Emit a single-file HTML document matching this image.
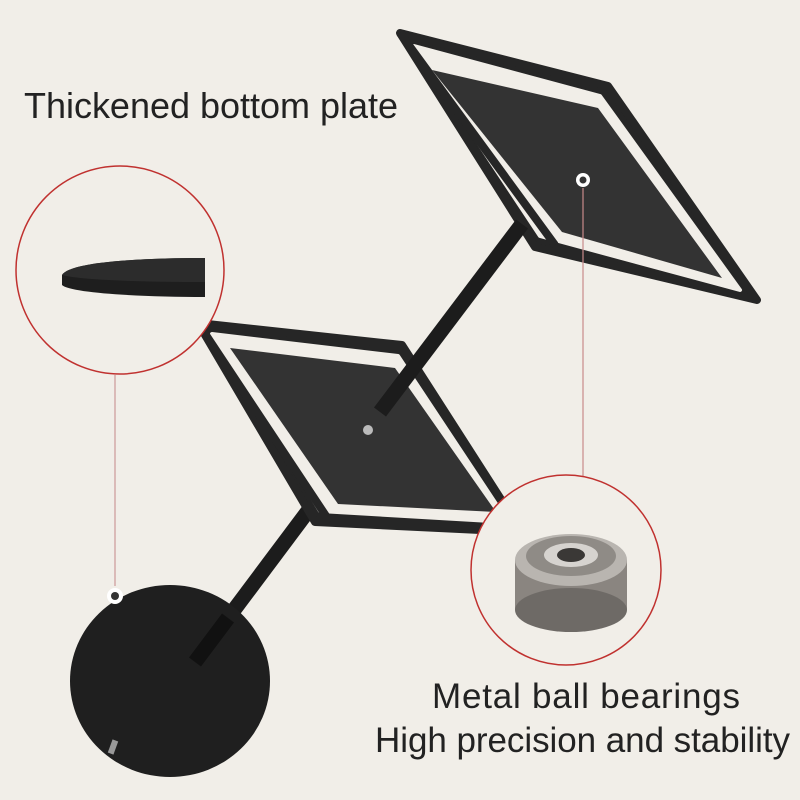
<!DOCTYPE html>
<html><head><style>
html,body{margin:0;padding:0;background:#f1eee8;}
svg{display:block}
text{font-family:"Liberation Sans",sans-serif;fill:#222}
</style></head><body>
<svg width="800" height="800" viewBox="0 0 800 800">
<rect width="800" height="800" fill="#f1eee8"/>
<text x="24" y="118" font-size="36" textLength="374">Thickened bottom plate</text>
<!-- lower pole -->
<line x1="195" y1="662" x2="320" y2="495" stroke="#1c1c1c" stroke-width="15"/>
<!-- upper plate -->
<polygon points="400,33 608,86 757,300 535,247" fill="#262626" stroke="#262626" stroke-width="8" stroke-linejoin="round"/>
<polygon points="414,46 600,96 740,290 540,236" fill="#f1eee8" stroke="#f1eee8" stroke-width="4" stroke-linejoin="round"/>
<polygon points="432,70 598,108 722,278 562,232" fill="#333"/>
<line x1="400" y1="33" x2="555" y2="245" stroke="#262626" stroke-width="8"/>
<circle cx="583" cy="180" r="7" fill="#fff"/><circle cx="583" cy="180" r="3.5" fill="#333"/>
<line x1="583" y1="188" x2="583" y2="478" stroke="#c98a8a" stroke-width="1.2"/>
<!-- middle plate -->
<polygon points="198,323 402,345 522,532 315,522" fill="#262626" stroke="#262626" stroke-width="8" stroke-linejoin="round"/>
<polygon points="212,334 398,356 508,522 320,511" fill="#f1eee8" stroke="#f1eee8" stroke-width="4" stroke-linejoin="round"/>
<polygon points="230,348 395,368 496,512 338,504" fill="#333"/>
<line x1="198" y1="323" x2="330" y2="522" stroke="#262626" stroke-width="8"/>
<!-- upper pole -->
<line x1="380" y1="412" x2="522" y2="224" stroke="#1c1c1c" stroke-width="15"/>
<circle cx="368" cy="430" r="5" fill="#bbb"/>
<!-- base -->
<ellipse cx="170" cy="681" rx="100" ry="96" fill="#1f1f1f"/>
<line x1="195" y1="662" x2="228" y2="618" stroke="#111" stroke-width="15"/>
<circle cx="115" cy="596" r="8" fill="#fff"/><circle cx="115" cy="596" r="4" fill="#333"/>
<line x1="115" y1="375" x2="115" y2="586" stroke="#c99" stroke-width="1.2"/>
<rect x="110" y="740" width="6" height="14" fill="#999" transform="rotate(20 113 747)"/>
<!-- left circle -->
<defs><clipPath id="c1"><circle cx="120" cy="270" r="104"/></clipPath>
<clipPath id="c2"><circle cx="566" cy="570" r="95"/></clipPath></defs>
<circle cx="120" cy="270" r="104" fill="#f1eee8" stroke="#c0312f" stroke-width="1.5"/>
<g clip-path="url(#c1)">
<path d="M205,258 C140,258 70,262 62,275 L62,285 C70,293 140,297 205,297 Z" fill="#1e1e1e"/>
<path d="M205,258 C140,258 70,262 62,275 C80,280 140,282 205,282 Z" fill="#2c2c2c"/>
</g>
<!-- right circle -->
<circle cx="566" cy="570" r="95" fill="#f1eee8" stroke="#c0312f" stroke-width="1.5"/>
<g clip-path="url(#c2)">
<rect x="515" y="560" width="112" height="50" fill="#8a8580"/>
<ellipse cx="571" cy="610" rx="56" ry="22" fill="#6e6a66"/>
<ellipse cx="571" cy="560" rx="56" ry="26" fill="#b9b5b0"/>
<ellipse cx="571" cy="556" rx="45" ry="20" fill="#8f8b86"/>
<ellipse cx="571" cy="555" rx="27" ry="12" fill="#d6d3cf"/>
<ellipse cx="571" cy="555" rx="14" ry="7" fill="#3a3836"/>
</g>
<text x="432" y="708" font-size="35" textLength="308">Metal ball bearings</text>
<text x="375" y="752" font-size="35" textLength="415">High precision and stability</text>
</svg>
</body></html>
